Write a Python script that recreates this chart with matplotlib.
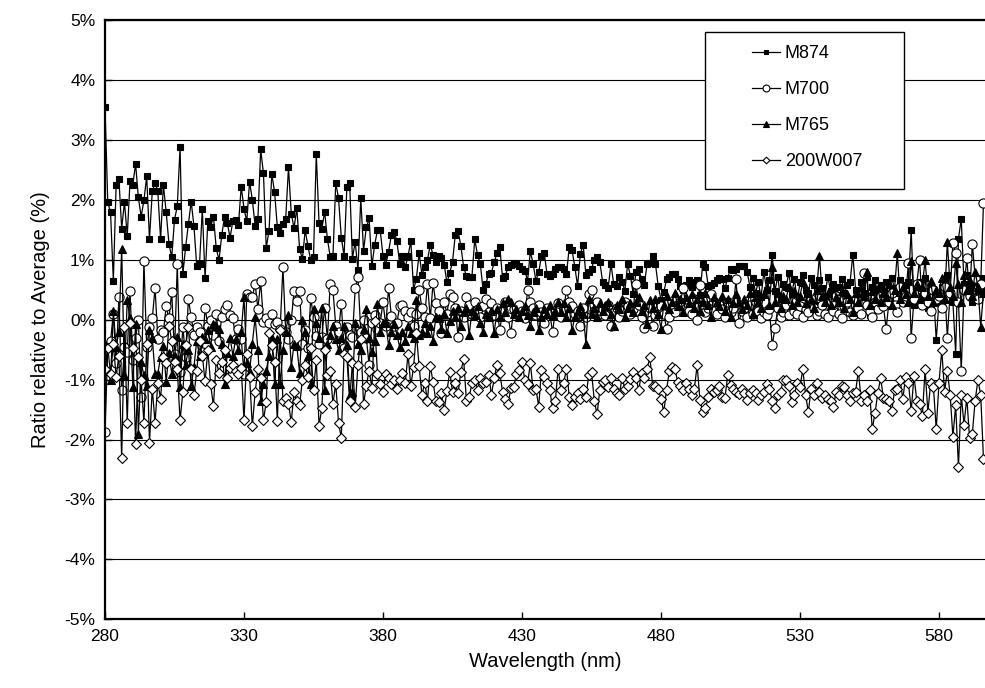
import numpy as np
import matplotlib
matplotlib.use('Agg')
import matplotlib.pyplot as plt
from matplotlib.ticker import FuncFormatter
from matplotlib.patches import Rectangle

# Ratio relative to average (%), one value per nm starting at 280 nm
Start_nm = 280

M874 = [
    3.54, 1.96, 1.79, 0.65, 2.24, 2.35, 1.52, 1.96, 1.40, 2.31,
    2.25, 2.60, 2.04, 1.72, 1.99, 2.39, 1.34, 2.14, 2.28, 2.14,
    1.34, 2.25, 1.80, 1.27, 1.04, 1.67, 1.89, 2.88, 0.76, 1.21,
    1.60, 1.97, 1.56, 0.89, 0.93, 1.84, 0.69, 1.65, 1.55, 1.72,
    1.20, 0.99, 1.41, 1.72, 1.61, 1.37, 1.65, 1.67, 1.58, 2.22,
    1.85, 1.64, 2.30, 2.00, 1.57, 1.68, 2.84, 2.44, 1.20, 1.48,
    2.43, 2.13, 1.54, 1.44, 1.59, 1.68, 2.54, 1.77, 1.53, 1.86,
    1.18, 1.01, 1.49, 1.23, 0.99, 1.04, 2.77, 1.61, 1.52, 1.80,
    1.35, 1.05, 1.06, 2.28, 2.03, 1.37, 1.06, 2.21, 2.28, 1.02,
    1.30, 0.83, 2.03, 1.15, 1.54, 1.69, 0.89, 1.25, 1.49, 1.49,
    1.06, 0.92, 1.13, 1.41, 1.47, 1.31, 0.93, 1.06, 0.88, 1.06,
    1.31, 0.50, 0.68, 1.11, 0.75, 0.88, 1.00, 1.25, 1.08, 0.96,
    1.07, 1.03, 0.92, 0.62, 0.78, 0.96, 1.42, 1.48, 1.23, 0.88,
    0.73, 0.71, 0.72, 1.34, 1.08, 0.93, 0.50, 0.60, 0.76, 0.78,
    0.96, 1.11, 1.21, 0.70, 0.73, 0.88, 0.92, 0.95, 0.93, 0.90,
    0.85, 0.82, 0.65, 1.14, 0.93, 0.65, 0.79, 1.06, 1.11, 0.76,
    0.73, 0.77, 0.84, 0.88, 0.88, 0.85, 0.76, 1.21, 1.16, 0.88,
    0.56, 1.10, 1.25, 0.74, 0.80, 0.85, 1.00, 1.04, 0.96, 0.63,
    0.57, 0.53, 0.93, 0.59, 0.56, 0.72, 0.63, 0.48, 0.93, 0.73,
    0.43, 0.79, 0.84, 0.68, 0.58, 0.93, 0.95, 1.06, 0.93, 0.56,
    0.33, 0.46, 0.67, 0.71, 0.76, 0.76, 0.67, 0.56, 0.50, 0.57,
    0.66, 0.54, 0.62, 0.66, 0.41, 0.93, 0.88, 0.56, 0.57, 0.61,
    0.66, 0.69, 0.67, 0.52, 0.70, 0.85, 0.83, 0.85, 0.90, 0.90,
    0.90, 0.79, 0.55, 0.70, 0.45, 0.62, 0.38, 0.80, 0.50, 0.66,
    1.08, 0.48, 0.72, 0.35, 0.60, 0.55, 0.78, 0.42, 0.68, 0.30,
    0.62, 0.75, 0.50, 0.45, 0.70, 0.58, 0.25, 0.66, 0.52, 0.40,
    0.72, 0.48, 0.60, 0.35, 0.55, 0.68, 0.44, 0.58, 0.62, 1.08,
    0.50, 0.38, 0.62, 0.45, 0.72, 0.07, 0.55, 0.66, 0.40, 0.58,
    0.48, 0.62, 0.35, 0.70, 0.52, 0.45, 0.66, 0.30, 0.58, 0.62,
    1.49, 0.25, 0.55, 0.62, 0.40, 0.70, 0.20, 0.55, 0.48, -0.34,
    0.30, 0.55, 0.62, 0.75, 0.45, 0.30, -0.57, 1.35, 1.68, 0.60,
    0.75, 0.55, 0.30, 0.62, 0.48, 0.70, 0.50]

M700 = [
    -1.87, -0.46, -0.35, 0.10, -0.73, 0.38, -1.18, -0.46, -0.54, 0.47,
    -0.68, -0.30, -0.01, -1.29, 0.98, -0.46, -0.12, 0.02, 0.53, -0.32,
    -0.18, -0.21, 0.22, 0.02, 0.46, -0.57, 0.93, -0.87, -0.13, -0.62,
    0.35, 0.04, -0.25, -0.13, -0.21, -0.54, 0.20, -0.10, -0.01, -0.25,
    0.10, -0.35, 0.05, 0.18, 0.24, 0.07, 0.02, -0.32, -0.15, -0.32,
    -0.90, 0.42, 0.38, 0.37, 0.60, 0.18, 0.64, -0.04, 0.02, -0.05,
    0.10, -0.07, -0.04, -0.15, 0.88, -0.20, -0.32, -0.01, 0.47, 0.31,
    0.47, -0.40, -0.18, -0.48, 0.36, 0.04, -0.28, -0.40, -0.29, 0.20,
    -0.32, 0.60, 0.49, -0.10, -0.21, 0.26, -0.48, -0.13, -0.25, -0.29,
    0.52, 0.71, -0.20, 0.00, -0.30, -0.76, -0.05, 0.08, -0.15, -0.05,
    0.29, -0.10, 0.53, 0.06, -0.10, -0.05, 0.22, 0.24, 0.15, 0.05,
    0.12, -0.10, 0.10, 0.49, 0.20, 0.05, 0.60, 0.02, 0.61, 0.27,
    0.15, -0.23, 0.30, 0.10, 0.42, 0.37, 0.20, -0.29, 0.15, 0.05,
    0.38, 0.25, 0.10, 0.30, 0.18, 0.05, 0.22, 0.35, 0.12, 0.28,
    0.08, 0.20, -0.18, 0.15, 0.30, 0.05, -0.23, 0.18, 0.10, 0.25,
    0.15, 0.02, 0.49, 0.30, 0.20, 0.08, 0.25, 0.12, -0.05, 0.20,
    0.10, -0.21, 0.15, 0.28, 0.05, 0.18, 0.49, 0.30, 0.22, 0.10,
    0.15, -0.10, 0.20, 0.05, 0.42, 0.49, 0.15, 0.30, 0.10, 0.18,
    0.08, 0.25, -0.10, 0.12, 0.20, 0.05, 0.15, 0.30, 0.22, 0.10,
    0.18, 0.60, 0.25, 0.05, -0.14, 0.12, 0.20, -0.10, 0.08, 0.15,
    0.22, 0.10, -0.15, 0.05, 0.18, 0.12, 0.25, 0.30, 0.53, 0.20,
    0.15, 0.10, 0.35, -0.01, 0.57, 0.25, 0.12, 0.20, 0.42, 0.15,
    0.10, 0.25, 0.18, 0.05, 0.30, 0.12, 0.20, 0.67, -0.06, 0.15,
    0.20, 0.05, 0.25, 0.10, 0.30, 0.15, 0.02, 0.12, 0.08, 0.18,
    -0.43, -0.14, 0.20, 0.05, 0.12, 0.25, 0.08, 0.30, 0.15, 0.10,
    0.22, 0.05, 0.18, 0.12, 0.35, 0.20, 0.08, 0.15, 0.25, 0.10,
    0.05, 0.28, 0.15, 0.40, 0.10, 0.02, 0.22, 0.30, 0.12, 0.08,
    0.35, 0.20, 0.10, 0.78, 0.25, 0.15, 0.05, 0.30, 0.18, 0.40,
    0.22, -0.15, 0.30, 0.45, 0.25, 0.12, 0.55, 0.30, 0.40, 0.94,
    -0.30, 0.35, 0.60, 1.00, 0.25, 0.45, 0.30, 0.15, 0.50, 0.35,
    0.40, 0.20, 0.55, -0.30, 0.45, 1.28, 1.11, 0.30, -0.86, 0.50,
    1.03, 0.40, 1.27, 0.70, 0.35, 0.60, 1.94]

M765 = [
    -0.40, -0.85, -1.01, 0.14, -0.45, -0.20, 1.18, -0.93, 0.33, 0.02,
    -1.12, -0.07, -1.90, -0.71, -0.93, -1.10, -0.18, -0.30, -0.90, -0.90,
    -0.62, -0.44, -1.04, -0.55, -0.90, -0.60, -0.29, -1.12, -0.40, -0.75,
    -0.50, -1.10, -0.79, -0.35, -0.60, -0.29, -0.32, -0.18, -0.45, -0.07,
    -0.10, -0.15, -0.40, -1.07, -0.55, -0.30, -0.60, -0.32, -0.51, -0.20,
    0.38, -0.73, -0.87, -0.40, 0.04, -0.50, -1.35, -1.07, -0.85, -0.60,
    -0.30, -1.07, -0.32, -1.07, -0.50, -0.20, 0.07, -0.79, -0.40, -0.44,
    -0.89, -0.01, -0.20, -0.60, -1.07, 0.18, -0.05, -0.30, 0.20, -1.18,
    -0.40, -0.25, -0.10, -0.32, -0.50, -0.30, -0.10, -0.43, -1.25, -1.20,
    -0.05, -0.40, -0.50, -0.15, 0.17, -0.30, -0.54, -0.35, 0.26, -0.21,
    -0.05, -0.05, -0.43, -0.20, -0.07, -0.25, -0.46, -0.20, -0.35, -0.10,
    -0.22, -0.30, 0.32, -0.25, -0.20, -0.05, -0.23, -0.10, -0.35, 0.05,
    0.02, -0.15, 0.10, -0.23, -0.03, 0.15, 0.05, 0.20, -0.10, 0.12,
    0.20, -0.26, 0.15, 0.08, 0.22, -0.05, -0.21, 0.10, 0.05, 0.15,
    -0.23, 0.18, 0.05, 0.27, 0.12, 0.35, 0.30, 0.10, 0.18, 0.05,
    0.15, 0.22, 0.08, -0.10, 0.12, 0.20, -0.18, 0.05, 0.18, 0.10,
    0.25, 0.08, 0.15, 0.30, 0.12, 0.27, 0.05, 0.20, -0.18, 0.05,
    0.15, 0.22, 0.10, -0.40, 0.35, 0.10, 0.20, 0.05, 0.28, 0.15,
    0.22, 0.30, 0.10, -0.10, 0.25, 0.18, 0.35, 0.05, 0.20, 0.28,
    0.12, 0.30, 0.38, 0.15, 0.25, -0.08, 0.32, 0.20, 0.35, 0.10,
    -0.15, 0.25, 0.40, 0.18, 0.30, 0.45, 0.22, 0.35, 0.12, 0.38,
    0.28, 0.42, 0.20, 0.35, 0.15, 0.30, 0.45, 0.25, 0.05, 0.38,
    0.30, 0.22, 0.40, 0.15, 0.35, 0.05, 0.28, 0.42, 0.30, 0.18,
    0.35, 0.25, 0.45, 0.10, 0.38, 0.30, 0.20, 0.42, 0.55, 0.25,
    0.88, 0.30, 0.45, 0.20, 0.40, 0.35, 0.55, 0.25, 0.48, 0.30,
    0.40, 0.62, 0.28, 0.45, 0.35, 0.20, 0.50, 1.07, 0.40, 0.30,
    0.45, 0.25, 0.55, 0.38, 0.30, 0.48, 0.20, 0.42, 0.35, 0.13,
    0.45, 0.30, 0.55, 0.40, 0.80, 0.25, 0.48, 0.35, 0.52, 0.30,
    0.45, 0.38, 0.60, 0.25, 0.50, 1.11, 0.35, 0.55, 0.42, 0.30,
    0.98, 0.45, 0.60, 0.35, 0.55, 1.00, 0.40, 0.65, 0.30, 0.50,
    0.45, 0.70, 0.35, 1.29, 0.55, 0.40, 0.95, 0.60, 0.30, 0.75,
    0.50, 0.65, 0.40, 0.80, 0.55, -0.12, 0.45]

W200W007 = [
    -0.82, -0.47, -0.90, -0.41, -0.95, -0.60, -2.31, -0.13, -1.72, -0.05,
    -0.48, -2.07, -0.62, -1.00, -1.72, -0.41, -2.06, -1.15, -1.72, -1.06,
    -1.32, -0.62, -0.73, -0.10, -0.35, -0.71, -0.82, -1.68, -1.21, -0.43,
    -0.12, -0.82, -1.26, -0.85, -0.35, -0.60, -1.03, -0.51, -1.08, -1.44,
    -0.68, -0.89, -0.70, -0.51, -0.98, -0.80, -0.76, -0.85, -0.90, -0.80,
    -1.68, -0.57, -0.95, -1.78, -1.21, -0.83, -0.97, -1.68, -1.37, -0.23,
    -0.43, -0.70, -1.69, -0.18, -1.36, -1.30, -1.40, -1.71, -1.20, -1.36,
    -1.43, -1.00, -0.76, -0.95, -0.48, -1.18, -0.68, -1.77, -1.47, -0.51,
    -0.93, -0.86, -1.40, -1.07, -1.72, -1.97, -0.57, -0.62, -1.35, -0.72,
    -1.46, -0.75, -0.32, -1.41, -1.10, -0.85, -1.14, -0.03, -0.90, -1.07,
    -1.21, -0.90, -0.98, -1.08, -1.00, -1.16, -1.01, -0.89, -1.06, -0.57,
    -1.10, -0.79, -0.23, -0.78, -1.26, -1.05, -1.35, -0.77, -1.04, -1.35,
    -1.37, -1.23, -1.51, -1.19, -0.87, -1.20, -1.06, -1.23, -0.87, -0.66,
    -1.35, -1.29, -1.06, -1.00, -1.17, -0.98, -1.06, -1.04, -0.92, -1.25,
    -0.98, -0.75, -0.89, -1.20, -1.32, -1.41, -1.14, -1.12, -0.91, -0.84,
    -0.71, -1.00, -1.07, -0.73, -1.17, -1.15, -1.45, -0.84, -0.96, -1.06,
    -1.18, -1.48, -1.35, -0.82, -1.17, -1.05, -0.82, -1.29, -1.43, -1.29,
    -1.23, -1.32, -1.15, -1.29, -0.93, -0.87, -1.35, -1.58, -1.17, -1.04,
    -1.00, -1.12, -0.98, -1.15, -1.22, -1.25, -0.97, -1.15, -1.11, -0.99,
    -0.87, -0.98, -1.17, -0.89, -0.97, -0.82, -0.63, -1.10, -1.11, -1.16,
    -1.32, -1.54, -1.17, -0.86, -0.79, -0.82, -1.04, -1.10, -1.18, -1.05,
    -1.15, -1.25, -1.15, -0.76, -1.34, -1.54, -1.48, -1.29, -1.15, -1.20,
    -1.17, -1.10, -1.29, -1.30, -0.93, -1.09, -1.15, -1.20, -1.24, -1.15,
    -1.22, -1.34, -1.23, -1.17, -1.23, -1.34, -1.25, -1.20, -1.07, -1.15,
    -1.35, -1.48, -1.25, -1.20, -1.01, -1.00, -1.10, -1.38, -1.25, -1.05,
    -1.12, -0.83, -1.25, -1.54, -1.15, -1.25, -1.05, -1.20, -1.30, -1.25,
    -1.32, -1.35, -1.45, -1.20, -1.25, -1.10, -1.12, -1.25, -1.35, -1.22,
    -1.20, -0.85, -1.35, -1.25, -1.35, -1.18, -1.83, -1.55, -1.22, -0.98,
    -1.30, -1.32, -1.35, -1.53, -1.18, -1.15, -1.01, -1.32, -0.95, -1.05,
    -1.52, -0.94, -1.35, -1.40, -1.61, -0.83, -1.55, -1.05, -1.12, -1.83,
    -1.05, -0.51, -1.20, -0.86, -1.25, -1.95, -1.43, -2.46, -1.25, -1.75,
    -1.30, -1.98, -1.90, -1.35, -1.01, -1.25, -2.33]

SeriesNames = ['M874', 'M700', 'M765', '200W007']
SeriesData = [M874, M700, M765, W200W007]
Markers = ['s', 'o', '^', 'D']
MarkerFill = ['black', 'white', 'black', 'white']
MarkerSize = [4.8, 6.6, 5.8, 4.6]

YTicks = np.arange(-5, 6, 1)
XTicks = np.arange(280, 581, 50)

plt.rcParams['font.family'] = ['Liberation Sans', 'DejaVu Sans']

fig = plt.figure(figsize=(9.85, 6.88), dpi=100)
ax = fig.add_axes([105/985, 1-619.3/688, 880/985, 599.3/688])

for name, vals, mk, fc, ms in zip(SeriesNames, SeriesData, Markers, MarkerFill, MarkerSize):
    wl = Start_nm + np.arange(len(vals))
    ax.plot(wl, vals, color='black', lw=0.9, marker=mk, markersize=ms,
            markerfacecolor=fc, markeredgecolor='black', markeredgewidth=0.8,
            label=name)

ax.set_xlim(280, 280 + 880/2.78)
ax.set_ylim(-5, 5)
ax.set_yticks(YTicks)
ax.set_xticks(XTicks)
ax.yaxis.set_major_formatter(FuncFormatter(lambda v, p: '%d%%' % int(round(v))))
ax.grid(axis='y', color='black', lw=0.8)
ax.set_axisbelow(True)
for s in ['left', 'bottom', 'top']:
    ax.spines[s].set_linewidth(1.6)
ax.spines['right'].set_visible(False)
ax.tick_params(direction='in', length=5, width=1, labelsize=12.5, pad=7)
ax.set_xlabel('Wavelength (nm)', fontsize=14.5, labelpad=6)
ax.set_ylabel('Ratio relative to Average (%)', fontsize=14.5, labelpad=10)

# legend box (white, black edge) drawn inside the axes, entries on top of it
box = Rectangle((705/985, 1-189/688), 199/985, 157.3/688,
                transform=fig.transFigure, facecolor='white',
                edgecolor='black', lw=1, zorder=5, clip_on=False)
ax.add_patch(box)
leg = ax.legend(loc='upper left', bbox_to_anchor=((745-105)/880, (619.3-38)/599.3),
                frameon=False, fontsize=13, handlelength=1.55, handletextpad=0.25,
                labelspacing=1.05, markerscale=0.75, borderaxespad=0)
leg.set_zorder(6)

fig.savefig('out.png', dpi=100)
